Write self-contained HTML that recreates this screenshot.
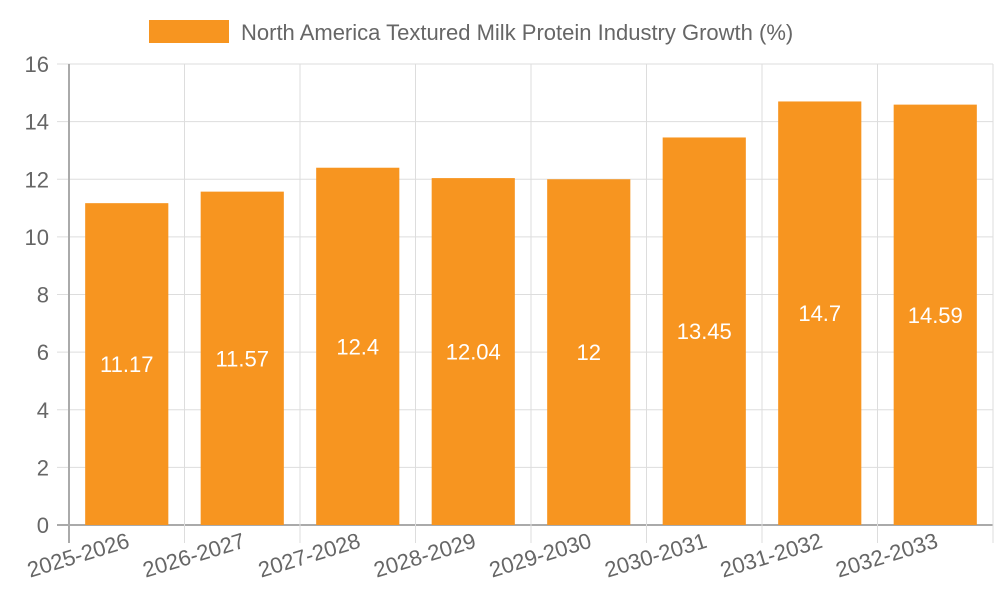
<!DOCTYPE html>
<html><head><meta charset="utf-8"><style>
body{margin:0;background:#fff;}
svg{display:block;font-family:"Liberation Sans",sans-serif;}
</style></head><body>
<svg id="c" width="1000" height="600"></svg>
<script>
const categories=["2025-2026","2026-2027","2027-2028","2028-2029","2029-2030","2030-2031","2031-2032","2032-2033"];
const values=[11.17,11.57,12.4,12.04,12,13.45,14.7,14.59];
const yTicks=[0,2,4,6,8,10,12,14,16];
const svg=document.getElementById('c');
const NS='http://www.w3.org/2000/svg';
const L=69,R=993,T=64,B=525,yMax=16;
const bw=(R-L)/categories.length;
const y=v=>B-(v/yMax)*(B-T);
const x=i=>L+i*bw;
function mk(t,a){const e=document.createElementNS(NS,t);for(const k in a)e.setAttribute(k,a[k]);svg.appendChild(e);return e;}
// legend
let e=mk('rect',{x:149,y:20,width:80,height:23,fill:'#f79520'});


e=mk('text',{x:241,y:40,'font-size':22,fill:'#666'});e.textContent='North America Textured Milk Protein Industry Growth (%)';


// y grid
yTicks.forEach(v=>{
 const g=mk('line',{x1:L-12,x2:R,y1:y(v),y2:y(v),stroke:v===0?'#aaa':'#ddd','stroke-width':v===0?2:1});
 
 
 const t=mk('text',{x:L-20,y:y(v)+8,'font-size':22,fill:'#666','text-anchor':'end'});t.textContent=v;
 
 
});
// x grid
for(let i=0;i<=categories.length;i++){
 const g=mk('line',{x1:x(i),x2:x(i),y1:T,y2:B+18,stroke:i===0?'#aaa':'#ddd','stroke-width':i===0?2:1});
 
 
}
categories.forEach((c,i)=>{
 const bx=x(i)+bw*0.14,w=bw*0.72;
 const r=mk('rect',{x:bx,y:y(values[i]),width:w,height:B-y(values[i]),fill:'#f79520'});
 
 
 const vt=mk('text',{x:bx+w/2,y:(y(values[i])+B)/2+8,'font-size':22,fill:'#fff','text-anchor':'middle'});vt.textContent=values[i];
 
 
 const cx=x(i)+bw/2+4;
 const t=mk('text',{x:cx,y:B+22,'font-size':22,fill:'#666','text-anchor':'end',transform:`rotate(-17 ${cx} ${B+22})`});t.textContent=c;
 
 
});
</script>
</body></html>
